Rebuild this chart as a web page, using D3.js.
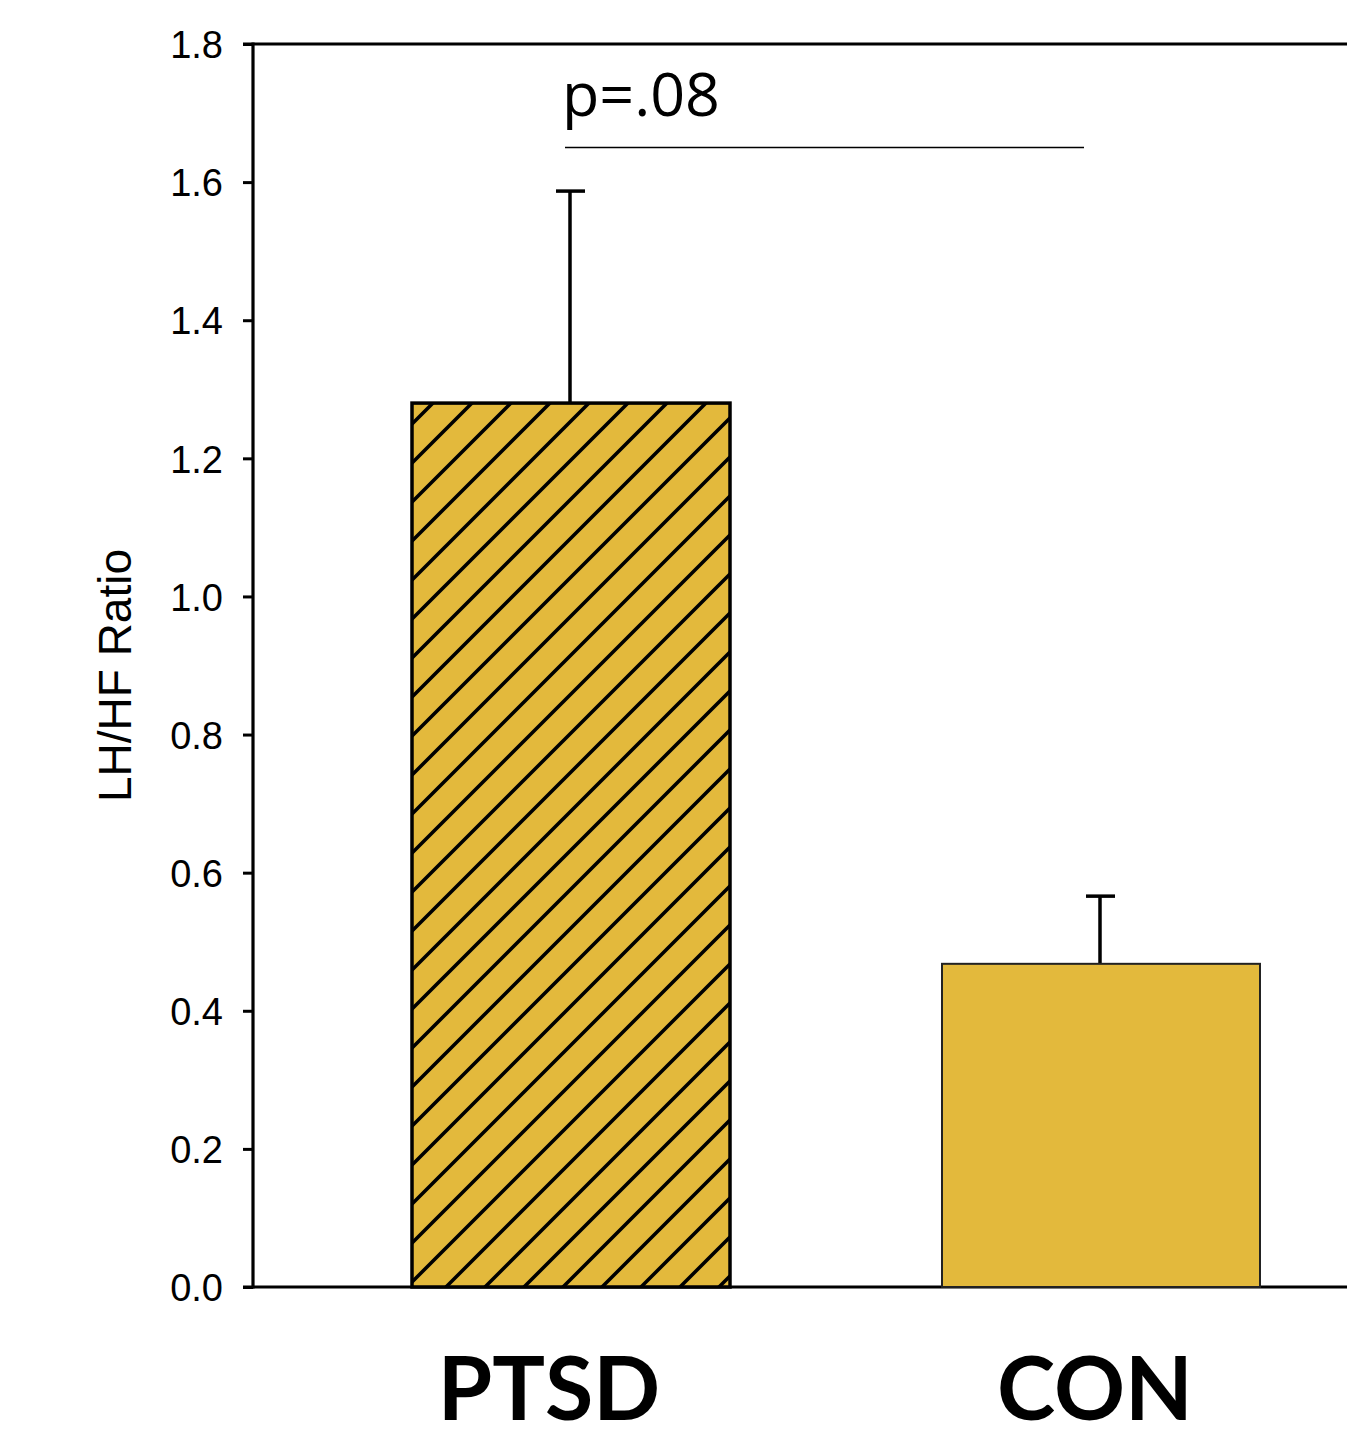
<!DOCTYPE html>
<html>
<head>
<meta charset="utf-8">
<script src="https://cdn.jsdelivr.net/npm/d3@7"></script>
<style>
  html, body { margin: 0; padding: 0; background: #fff; }
  svg { display: block; }
</style>
</head>
<body>
<svg id="chart" width="1347" height="1441"></svg>
<script>
// Group means and standard errors of the LF/HF ratio
const groups = ["PTSD", "CON"];
const means = [1.28, 0.468];
const errors = [0.307, 0.098];
const hatched = [true, false];
const tickValues = [0, 0.2, 0.4, 0.6, 0.8, 1.0, 1.2, 1.4, 1.6, 1.8];
const yLabel = "LH/HF Ratio";
const pLabel = "p=.08";
const pLevel = 1.65;

const chartW = 1347;
const plotLeft = 253, plotTop = 44, plotBottom = 1287;
const barColor = "#e3b93c";

const svg = d3.select("#chart");

const y = d3.scaleLinear().domain([0, 1.8]).range([plotBottom, plotTop]);
const x = d3.scaleBand().domain(groups).range([plotLeft, 1419])
  .paddingInner(0.4).paddingOuter(0.3);

// diagonal hatch used for the PTSD bar
const defs = svg.append("defs");
const pat = defs.append("pattern")
  .attr("id", "hatch")
  .attr("patternUnits", "userSpaceOnUse")
  .attr("x", 17).attr("y", 0)
  .attr("width", 39).attr("height", 39);
pat.append("rect").attr("width", 39).attr("height", 39).attr("fill", barColor);
pat.append("path")
  .attr("d", "M-5,5 L5,-5 M0,39 L39,0 M34,44 L44,34")
  .attr("stroke", "#000").attr("stroke-width", 3.6);

// y axis
const yAxis = d3.axisLeft(y)
  .tickValues(tickValues)
  .tickFormat(d3.format(".1f"))
  .tickSize(10)
  .tickPadding(20);
const gy = svg.append("g").attr("transform", `translate(${plotLeft},0)`).call(yAxis);
gy.select(".domain").remove();
gy.selectAll(".tick line").attr("stroke", "#000").attr("stroke-width", 3);
gy.selectAll(".tick text")
  .attr("fill", "#000")
  .style("font-family", "'Liberation Sans', Arial, sans-serif")
  .style("font-size", "38px")
  .attr("dy", "0.36em");

// frame: left axis, top line and baseline running to the right edge
const frame = svg.append("g").attr("stroke", "#000").attr("stroke-width", 3.2).attr("fill", "none");
frame.append("line").attr("x1", plotLeft).attr("x2", plotLeft).attr("y1", y(1.8) - 1.5).attr("y2", y(0) + 1.5);
frame.append("line").attr("x1", plotLeft - 10).attr("x2", chartW).attr("y1", y(1.8)).attr("y2", y(1.8));
frame.append("line").attr("x1", plotLeft - 10).attr("x2", chartW).attr("y1", y(0)).attr("y2", y(0));

// y axis title
svg.append("text")
  .attr("transform", `translate(131,${(y(0) + y(1.8)) / 2 + 10}) rotate(-90)`)
  .attr("text-anchor", "middle")
  .style("font-family", "'Liberation Sans', Arial, sans-serif")
  .style("font-size", "46px")
  .attr("fill", "#000")
  .text(yLabel);

const data = groups.map((g, i) => ({ g, mean: means[i], err: errors[i], hatched: hatched[i] }));

// error bars (drawn beneath the bars)
const eb = svg.append("g").attr("stroke", "#000").attr("stroke-width", 3.5);
data.forEach(d => {
  const cx = x(d.g) + x.bandwidth() / 2 - 1;
  eb.append("line").attr("x1", cx).attr("x2", cx).attr("y1", y(d.mean)).attr("y2", y(d.mean + d.err));
  eb.append("line").attr("x1", cx - 14).attr("x2", cx + 15).attr("y1", y(d.mean + d.err)).attr("y2", y(d.mean + d.err));
});

// bars
svg.append("g").selectAll("rect").data(data).join("rect")
  .attr("x", d => x(d.g))
  .attr("y", d => y(d.mean))
  .attr("width", x.bandwidth())
  .attr("height", d => y(0) - y(d.mean))
  .attr("fill", d => d.hatched ? "url(#hatch)" : barColor)
  .attr("stroke", d => d.hatched ? "#000" : "#222")
  .attr("stroke-width", d => d.hatched ? 3.5 : 2);

// significance line and p value
const sx0 = x("PTSD") + x.bandwidth() / 2 - 6;
const sx1 = x("CON") + x.bandwidth() / 2 - 17;
svg.append("line")
  .attr("x1", sx0).attr("x2", sx1)
  .attr("y1", y(pLevel)).attr("y2", y(pLevel))
  .attr("stroke", "#000").attr("stroke-width", 1.5);
svg.append("text")
  .attr("x", sx0 - 3).attr("y", 116)
  .style("font-family", "'Open Sans', Lato, sans-serif")
  .style("font-size", "61px")
  .attr("fill", "#000")
  .text(pLabel);

// category labels
const labelDx = { PTSD: -22, CON: -6 };
svg.append("g").selectAll("text").data(groups).join("text")
  .attr("x", g => x(g) + x.bandwidth() / 2 + labelDx[g])
  .attr("y", 1420)
  .attr("text-anchor", "middle")
  .style("font-family", "Lato, 'Open Sans', sans-serif")
  .style("font-weight", "bold")
  .style("font-size", "88px")
  .attr("fill", "#000")
  .text(g => g);
</script>
</body>
</html>
